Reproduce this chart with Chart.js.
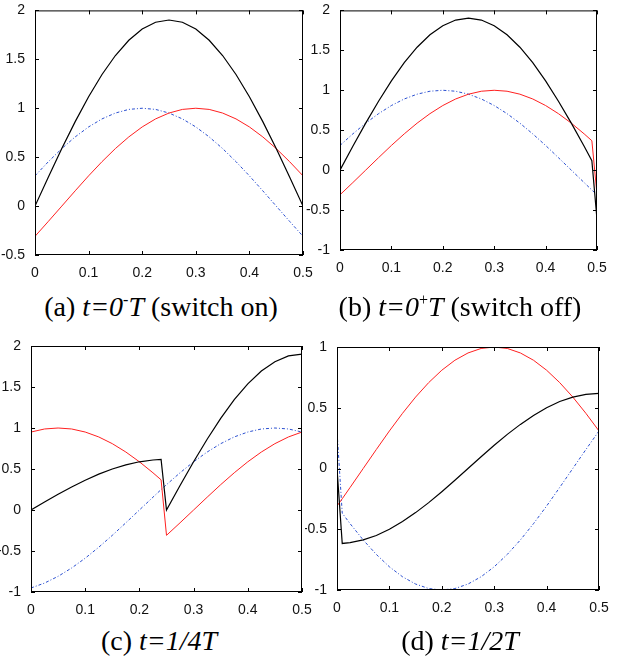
<!DOCTYPE html>
<html>
<head>
<meta charset="utf-8">
<script src="https://cdn.jsdelivr.net/npm/chart.js@4/dist/chart.umd.min.js"></script>
<style>
    body { margin: 0; background: #fff; }
    #wrap { position: relative; width: 626px; height: 659px; overflow: hidden; }
    canvas { position: absolute; }
    .cap {
        position: absolute;
        font-family: "Liberation Serif", "Times New Roman", serif;
        font-size: 28px;
        line-height: 28px;
        color: #000;
        text-align: center;
        white-space: nowrap;
    }
    .cap sup { font-size: 16px; vertical-align: 11px; line-height: 0; }
</style>
</head>
<body>
<div id="wrap">
    <canvas id="chartA" width="318" height="285" style="left:0;top:0"></canvas>
    <canvas id="chartB" width="321" height="280" style="left:305px;top:0"></canvas>
    <canvas id="chartC" width="318" height="292" style="left:0;top:330px"></canvas>
    <canvas id="chartD" width="321" height="290" style="left:305px;top:330px"></canvas>
    <div class="cap" style="left:0;width:322px;top:293px">(a) <i>t=0</i><sup>-</sup><i>T</i> (switch on)</div>
    <div class="cap" style="left:300px;width:320px;top:293px">(b) <i>t=0</i><sup>+</sup><i>T</i> (switch off)</div>
    <div class="cap" style="left:0;width:318px;top:627px">(c) <i>t=1/4T</i></div>
    <div class="cap" style="left:300px;width:320px;top:627px">(d) <i>t=1/2T</i></div>
</div>
<script>
// values
const xTicks = [0, 0.1, 0.2, 0.3, 0.4, 0.5];

// (a) switch on
const xA = [0, 0.025, 0.05, 0.075, 0.1, 0.125, 0.15, 0.175, 0.2, 0.225, 0.25, 0.275, 0.3, 0.325, 0.35, 0.375, 0.4, 0.425, 0.45, 0.475, 0.5];
const blackA = [0, 0.298, 0.588, 0.863, 1.118, 1.345, 1.539, 1.695, 1.809, 1.879, 1.902, 1.879, 1.809, 1.695, 1.539, 1.345, 1.118, 0.863, 0.588, 0.298, 0];
const redA = [-0.309, -0.156, 0, 0.156, 0.309, 0.454, 0.588, 0.707, 0.809, 0.891, 0.951, 0.988, 1, 0.988, 0.951, 0.891, 0.809, 0.707, 0.588, 0.454, 0.309];
const blueA = [0.309, 0.454, 0.588, 0.707, 0.809, 0.891, 0.951, 0.988, 1, 0.988, 0.951, 0.891, 0.809, 0.707, 0.588, 0.454, 0.309, 0.156, 0, -0.156, -0.309];
const yTicksA = [-0.5, 0, 0.5, 1, 1.5, 2];

// (b) switch off
const xB = [0, 0.025, 0.05, 0.075, 0.1, 0.125, 0.15, 0.175, 0.2, 0.225, 0.25, 0.275, 0.3, 0.325, 0.35, 0.375, 0.4, 0.425, 0.45, 0.475, 0.49, 0.5];
const blackB = [0, 0.298, 0.588, 0.863, 1.118, 1.345, 1.539, 1.695, 1.809, 1.879, 1.902, 1.879, 1.809, 1.695, 1.539, 1.345, 1.118, 0.863, 0.588, 0.298, 0.119, -0.618];
const redB = [-0.309, -0.156, 0, 0.156, 0.309, 0.454, 0.588, 0.707, 0.809, 0.891, 0.951, 0.988, 1, 0.988, 0.951, 0.891, 0.809, 0.707, 0.588, 0.454, 0.368, -0.309];
const blueB = [0.309, 0.454, 0.588, 0.707, 0.809, 0.891, 0.951, 0.988, 1, 0.988, 0.951, 0.891, 0.809, 0.707, 0.588, 0.454, 0.309, 0.156, 0, -0.156, -0.249, -0.309];
const yTicksB = [-1, -0.5, 0, 0.5, 1, 1.5, 2];

// (c) t = 1/4 T
const xC = [0, 0.025, 0.05, 0.075, 0.1, 0.125, 0.15, 0.175, 0.2, 0.225, 0.24, 0.25, 0.275, 0.3, 0.325, 0.35, 0.375, 0.4, 0.425, 0.45, 0.475, 0.5];
const blackC = [0, 0.097, 0.191, 0.281, 0.363, 0.437, 0.5, 0.551, 0.588, 0.61, 0.617, 0, 0.298, 0.588, 0.863, 1.118, 1.345, 1.539, 1.695, 1.809, 1.879, 1.902];
const redC = [0.951, 0.988, 1, 0.988, 0.951, 0.891, 0.809, 0.707, 0.588, 0.454, 0.368, -0.309, -0.156, 0, 0.156, 0.309, 0.454, 0.588, 0.707, 0.809, 0.891, 0.951];
const blueC = [-0.951, -0.891, -0.809, -0.707, -0.588, -0.454, -0.309, -0.156, 0, 0.156, 0.249, 0.309, 0.454, 0.588, 0.707, 0.809, 0.891, 0.951, 0.988, 1, 0.988, 0.951];
const yTicksC = [-1, -0.5, 0, 0.5, 1, 1.5, 2];

// (d) t = 1/2 T
const xD = [0, 0.01, 0.025, 0.05, 0.075, 0.1, 0.125, 0.15, 0.175, 0.2, 0.225, 0.25, 0.275, 0.3, 0.325, 0.35, 0.375, 0.4, 0.425, 0.45, 0.475, 0.5];
const blackD = [0, -0.617, -0.61, -0.588, -0.551, -0.5, -0.437, -0.363, -0.281, -0.191, -0.097, 0, 0.097, 0.191, 0.281, 0.363, 0.437, 0.5, 0.551, 0.588, 0.61, 0.618];
const redD = [-0.309, -0.249, -0.156, 0, 0.156, 0.309, 0.454, 0.588, 0.707, 0.809, 0.891, 0.951, 0.988, 1, 0.988, 0.951, 0.891, 0.809, 0.707, 0.588, 0.454, 0.309];
const blueD = [0.309, -0.368, -0.454, -0.588, -0.707, -0.809, -0.891, -0.951, -0.988, -1, -0.988, -0.951, -0.891, -0.809, -0.707, -0.588, -0.454, -0.309, -0.156, 0, 0.156, 0.309];
const yTicksD = [-1, -0.5, 0, 0.5, 1];

const tickFont = { family: "'Liberation Sans', Arial, sans-serif", size: 14 };

// matlab style box with inward ticks on every side
const boxPlugin = {
    id: "box",
    afterDraw(chart) {
        const { ctx, chartArea: a, scales } = chart;
        const len = 4;
        ctx.save();
        ctx.strokeStyle = "#000";
        ctx.lineWidth = 1;
        ctx.strokeRect(a.left + 0.5, a.top + 0.5, a.right - a.left - 1, a.bottom - a.top - 1);
        ctx.beginPath();
        scales.x.ticks.forEach(t => {
            const px = Math.round(scales.x.getPixelForValue(t.value)) + 0.5;
            ctx.moveTo(px, a.bottom); ctx.lineTo(px, a.bottom - len);
            ctx.moveTo(px, a.top); ctx.lineTo(px, a.top + len);
        });
        scales.y.ticks.forEach(t => {
            const py = Math.round(scales.y.getPixelForValue(t.value)) + 0.5;
            ctx.moveTo(a.left, py); ctx.lineTo(a.left + len, py);
            ctx.moveTo(a.right, py); ctx.lineTo(a.right - len, py);
        });
        ctx.stroke();
        ctx.restore();
    }
};

function series(xs, ys) {
    return xs.map((x, i) => ({ x, y: ys[i] }));
}

function makePanel(id, xs, black, red, blue, yTicks, pad, yWidth) {
    return new Chart(document.getElementById(id), {
        type: "line",
        data: {
            datasets: [
                { data: series(xs, black), borderColor: "#000", borderWidth: 1.2 },
                { data: series(xs, red), borderColor: "#ff2020", borderWidth: 1 },
                { data: series(xs, blue), borderColor: "#2a4fd0", borderWidth: 1, borderDash: [3, 2, 1, 2] }
            ]
        },
        options: {
            responsive: false,
            animation: false,
            events: [],
            layout: { padding: pad },
            elements: { point: { radius: 0 }, line: { tension: 0, fill: false } },
            plugins: { legend: { display: false }, tooltip: { enabled: false } },
            scales: {
                x: {
                    type: "linear",
                    min: xTicks[0],
                    max: xTicks[xTicks.length - 1],
                    afterBuildTicks: axis => { axis.ticks = xTicks.map(v => ({ value: v })); },
                    afterFit: axis => { axis.height = 30; },
                    grid: { display: false },
                    border: { display: false },
                    ticks: { font: tickFont, color: "#111", padding: 2, maxRotation: 0, callback: v => String(v) }
                },
                y: {
                    type: "linear",
                    min: yTicks[0],
                    max: yTicks[yTicks.length - 1],
                    afterBuildTicks: axis => { axis.ticks = yTicks.map(v => ({ value: v })); },
                    afterFit: axis => { axis.width = yWidth; },
                    grid: { display: false },
                    border: { display: false },
                    ticks: { font: tickFont, color: "#111", padding: 2, callback: v => String(v) }
                }
            }
        },
        plugins: [boxPlugin]
    });
}

makePanel("chartA", xA, blackA, redA, blueA, yTicksA, { left: 0, top: 9, right: 15, bottom: 0 }, 35);
makePanel("chartB", xB, blackB, redB, blueB, yTicksB, { left: 0, top: 10, right: 29, bottom: 0 }, 35);
makePanel("chartC", xC, blackC, redC, blueC, yTicksC, { left: 0, top: 16, right: 16, bottom: 0 }, 31);
makePanel("chartD", xD, blackD, redD, blueD, yTicksD, { left: 0, top: 17, right: 27, bottom: 0 }, 32);
</script>
</body>
</html>
